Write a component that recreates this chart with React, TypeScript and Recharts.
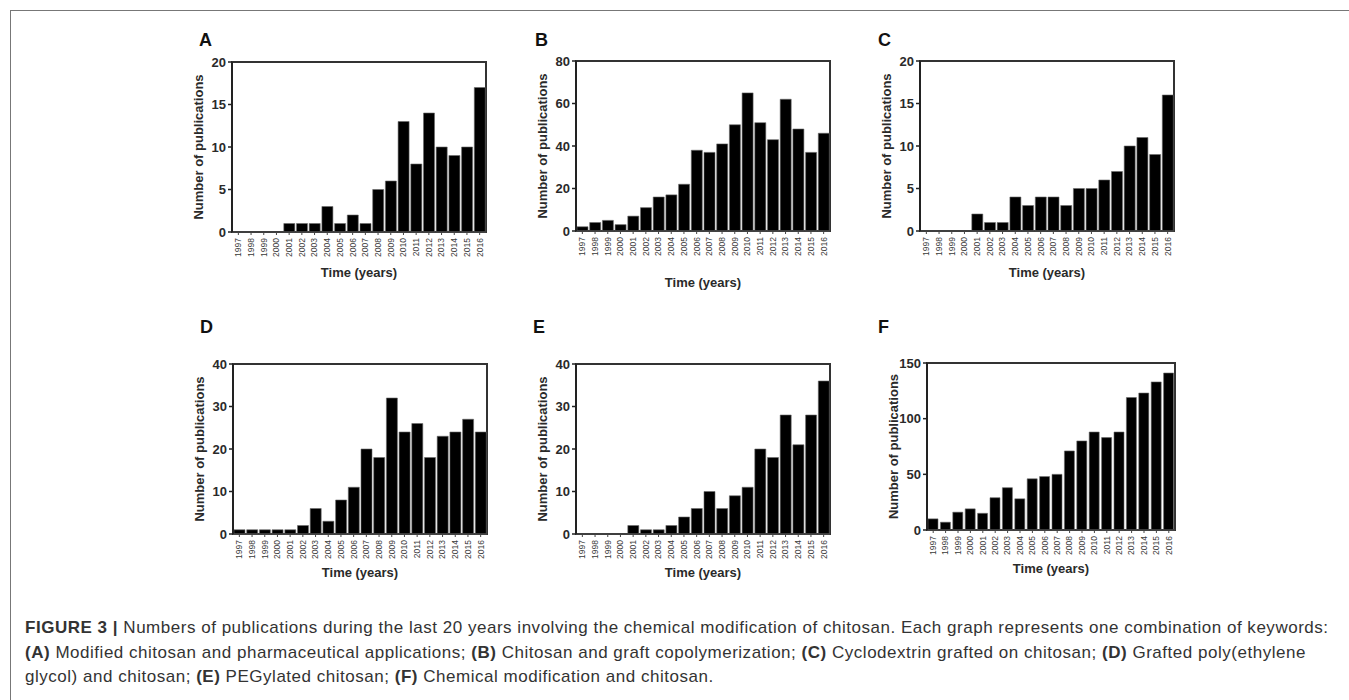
import React from 'react';
import { BarChart, Bar, XAxis, YAxis, Label, ReferenceArea } from 'recharts';

const years = [
  '1997', '1998', '1999', '2000', '2001', '2002', '2003', '2004', '2005', '2006',
  '2007', '2008', '2009', '2010', '2011', '2012', '2013', '2014', '2015', '2016',
];

// (A) Modified chitosan and pharmaceutical applications
const seriesA = [0, 0, 0, 0, 1, 1, 1, 3, 1, 2, 1, 5, 6, 13, 8, 14, 10, 9, 10, 17];
// (B) Chitosan and graft copolymerization
const seriesB = [2, 4, 5, 3, 7, 11, 16, 17, 22, 38, 37, 41, 50, 65, 51, 43, 62, 48, 37, 46];
// (C) Cyclodextrin grafted on chitosan
const seriesC = [0, 0, 0, 0, 2, 1, 1, 4, 3, 4, 4, 3, 5, 5, 6, 7, 10, 11, 9, 16];
// (D) Grafted poly(ethylene glycol) and chitosan
const seriesD = [1, 1, 1, 1, 1, 2, 6, 3, 8, 11, 20, 18, 32, 24, 26, 18, 23, 24, 27, 24];
// (E) PEGylated chitosan
const seriesE = [0, 0, 0, 0, 2, 1, 1, 2, 4, 6, 10, 6, 9, 11, 20, 18, 28, 21, 28, 36];
// (F) Chemical modification and chitosan
const seriesF = [10, 7, 16, 19, 15, 29, 38, 28, 46, 48, 50, 71, 80, 88, 83, 88, 119, 123, 133, 141];

const ticksA = [0, 5, 10, 15, 20];
const ticksB = [0, 20, 40, 60, 80];
const ticksC = [0, 5, 10, 15, 20];
const ticksD = [0, 10, 20, 30, 40];
const ticksE = [0, 10, 20, 30, 40];
const ticksF = [0, 50, 100, 150];

const yTitle = 'Number of publications';
const xTitle = 'Time (years)';

const FONT = '"Liberation Sans", Arial, Helvetica, sans-serif';
const INK = '#2a2a2a';

const panels = [
  { letter: 'A', values: seriesA, ticks: ticksA, plot: [232, 62, 486, 232], xBase: 277, letterAt: [199, 31] },
  { letter: 'B', values: seriesB, ticks: ticksB, plot: [576, 61, 830, 231], xBase: 287, letterAt: [535, 31] },
  { letter: 'C', values: seriesC, ticks: ticksC, plot: [920, 61, 1174, 231], xBase: 277, letterAt: [878, 31] },
  { letter: 'D', values: seriesD, ticks: ticksD, plot: [233, 364, 487, 534], xBase: 577, letterAt: [200, 318] },
  { letter: 'E', values: seriesE, ticks: ticksE, plot: [576, 364, 830, 534], xBase: 577, letterAt: [533, 318] },
  { letter: 'F', values: seriesF, ticks: ticksF, plot: [927, 363, 1175, 530], xBase: 573, letterAt: [878, 318] },
];

const Y_AXIS_W = 72;
const TOP_PAD = 8;
const RIGHT_PAD = 4;
const BOTTOM_PAD = 6;

function YearTick(props: any) {
  const { x, y, payload } = props;
  return (
    <text
      x={x}
      y={y}
      transform={`rotate(-90, ${x}, ${y})`}
      textAnchor="end"
      dy="0.34em"
      fontSize={8.5}
      fontFamily={FONT}
      fill="#3a3a3a"
    >
      {payload.value}
    </text>
  );
}

function Panel({ letter, values, ticks, plot, xBase, letterAt }: any) {
  const [l, t, r, b] = plot;
  const xAxisH = xBase - b;
  const width = r - l + Y_AXIS_W + RIGHT_PAD;
  const height = TOP_PAD + (b - t) + xAxisH + BOTTOM_PAD;
  const max = ticks[ticks.length - 1];
  const rows = years.map((year, i) => ({ year, value: values[i] }));

  return (
    <>
      <div
        style={{
          position: 'absolute',
          left: letterAt[0],
          top: letterAt[1],
          fontFamily: FONT,
          fontWeight: 700,
          fontSize: 18,
          lineHeight: 1,
          color: '#111',
        }}
      >
        {letter}
      </div>
      <div style={{ position: 'absolute', left: l - Y_AXIS_W, top: t - TOP_PAD }}>
        <BarChart
          width={width}
          height={height}
          data={rows}
          margin={{ top: TOP_PAD, right: RIGHT_PAD, left: 0, bottom: BOTTOM_PAD }}
          barCategoryGap={1}
        >
          <ReferenceArea y1={0} y2={max} fill="none" stroke="#333" strokeWidth={2} />
          <XAxis
            dataKey="year"
            interval={0}
            height={xAxisH}
            tickSize={3}
            tickMargin={3}
            tick={<YearTick />}
            axisLine={{ stroke: '#444', strokeWidth: 1.5 }}
            tickLine={{ stroke: '#444', strokeWidth: 1 }}
          >
            <Label
              value={xTitle}
              position="insideBottom"
              offset={0}
              style={{ fontFamily: FONT, fontWeight: 700, fontSize: 13, fill: INK }}
            />
          </XAxis>
          <YAxis
            width={Y_AXIS_W}
            domain={[0, max]}
            ticks={ticks}
            interval={0}
            tickSize={4}
            tickMargin={2}
            tick={{ fontFamily: FONT, fontWeight: 700, fontSize: 13, fill: INK }}
            axisLine={{ stroke: '#222', strokeWidth: 2 }}
            tickLine={{ stroke: '#222', strokeWidth: 1.5 }}
          >
            <Label
              value={yTitle}
              angle={-90}
              position="insideLeft"
              offset={38}
              style={{ fontFamily: FONT, fontWeight: 700, fontSize: 13, fill: INK, textAnchor: 'middle' }}
            />
          </YAxis>
          <Bar dataKey="value" fill="#000" stroke="#6a6a6a" strokeWidth={0.6} isAnimationActive={false} />
        </BarChart>
      </div>
    </>
  );
}

export default function App() {
  return (
    <div
      style={{
        position: 'absolute',
        left: 0,
        top: 0,
        width: 1349,
        height: 700,
        overflow: 'hidden',
        background: '#fff',
      }}
    >
      <div
        style={{
          position: 'absolute',
          left: 10,
          top: 10,
          width: 1400,
          height: 800,
          border: '1px solid #777',
        }}
      />
      {panels.map((p) => (
        <Panel key={p.letter} {...p} />
      ))}
      <div
        style={{
          position: 'absolute',
          left: 25,
          top: 616,
          fontFamily: FONT,
          fontSize: 17,
          letterSpacing: '0.52px',
          lineHeight: '24.5px',
          color: '#333',
          whiteSpace: 'nowrap',
        }}
      >
        <b>FIGURE 3 |</b> Numbers of publications during the last 20 years involving the chemical modification of
        chitosan. Each graph represents one combination of keywords:
        <br />
        <b>(A)</b> Modified chitosan and pharmaceutical applications; <b>(B)</b> Chitosan and graft copolymerization;{' '}
        <b>(C)</b> Cyclodextrin grafted on chitosan; <b>(D)</b> Grafted poly(ethylene
        <br />
        glycol) and chitosan; <b>(E)</b> PEGylated chitosan; <b>(F)</b> Chemical modification and chitosan.
      </div>
    </div>
  );
}
